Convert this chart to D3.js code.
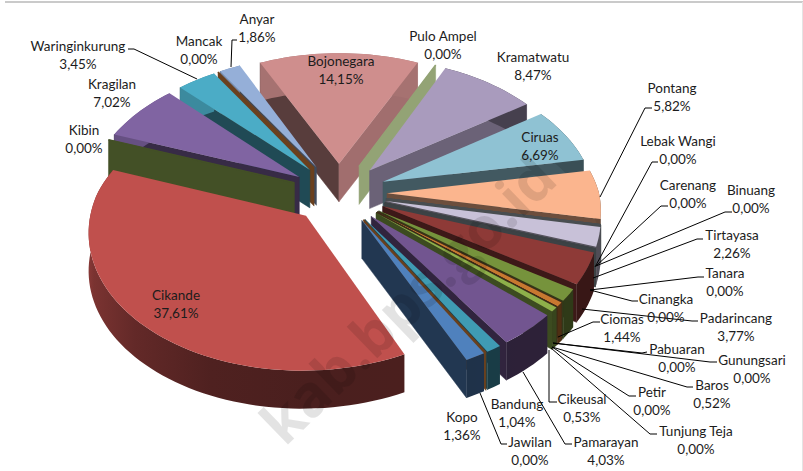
<!DOCTYPE html>
<html><head><meta charset="utf-8">
<script src="https://cdn.jsdelivr.net/npm/d3@7/dist/d3.min.js"></script>
<style>html,body{margin:0;padding:0;background:#fff;overflow:hidden}text{font-family:Lato,"Open Sans",sans-serif;font-size:13.5px;fill:#1c1c1c}</style>
</head><body><svg id="c" width="803" height="471"></svg>
<script>
const categories = ["Anyar","Bojonegara","Pulo Ampel","Kramatwatu","Ciruas","Pontang","Lebak Wangi","Carenang","Binuang","Tirtayasa","Tanara","Cinangka","Padarincang","Ciomas","Pabuaran","Gunungsari","Baros","Petir","Tunjung Teja","Cikeusal","Pamarayan","Bandung","Jawilan","Kopo","Cikande","Kibin","Kragilan","Waringinkurung","Mancak"];
const values = [1.86,14.15,0,8.47,6.69,5.82,0,0,0,2.26,0,0,3.77,1.44,0,0,0.52,0,0,0.53,4.03,1.04,0,1.36,37.61,0,7.02,3.45,0];
const sliceColors = ["#95AFD8","#CF8E8D","#BDD197","#A99BBD","#8FC2D3","#FBB58E","#B6C2C8","#A9B6BC","#A9B6BC","#C8C1D8","#8C9AA0","#8C9AA0","#8E3A37","#76933C","#76933C","#8C6A3A","#C87830","#7B5A2A","#8C6A3A","#8DB04A","#725590","#3F9BB3","#F79646","#4F81BD","#C0504D","#9BBB59","#8064A2","#4BACC6","#F79646"];
const labelCentres = [[257,19],[341,61],[443,36],[533,57],[540,137],[672,88],[678,141],[688,185],[751,190],[732,235],[725,273],[666,299],[736,318],[622,319],[677,349],[752,360],[712,385],[652,392],[696,431],[582,399],[606,442],[517,404],[530,442],[462,417],[176,295],[84,130],[112,84],[78,46],[199,41]];
const leaderPaths = {
 "Anyar":[[237,40],[232,40],[231,67]],
 "Waringinkurung":[[128,49],[134,49],[197,79]],
 "Pontang":[[652,108],[645,108],[600,197]],
 "Lebak Wangi":[[658,162],[652,162],[595,267]],
 "Carenang":[[668,206],[661,206],[596,266]],
 "Binuang":[[732,212],[725,212],[596,266]],
 "Tirtayasa":[[703,239],[697,239],[593,278]],
 "Tanara":[[704,277],[698,277],[590,290]],
 "Cinangka":[[638,301],[632,301],[590,290]],
 "Padarincang":[[698,321],[692,321],[582,309]],
 "Ciomas":[[600,322],[593,322],[558,337]],
 "Pabuaran":[[647,352],[642,353],[553,343]],
 "Gunungsari":[[717,362],[710,362],[553,343]],
 "Baros":[[693,387],[687,387],[552,347]],
 "Petir":[[636,396],[629,396],[552,347]],
 "Cikeusal":[[557,402],[549,402],[549,350]],
 "Tunjung Teja":[[657,434],[650,434],[551,348]],
 "Pamarayan":[[572,444],[565,444],[523,372]],
 "Jawilan":[[507,444],[501,444],[480,393]]
};
const fmt = v => v.toFixed(2).replace(".", ",") + "%";

const svg = d3.select("#c");
const defs = svg.append("defs");
svg.append("line").attr("x1",5).attr("x2",803).attr("y1",2).attr("y2",2).attr("stroke","#b8b8b8").attr("stroke-width",1.5);
svg.append("line").attr("x1",802.5).attr("x2",802.5).attr("y1",2).attr("y2",471).attr("stroke","#e4e4e4");

const cx=339, cy=193, R=212, EXPL=48, SY=0.63, P_FRONT=0.105, P_BACK=0.14, DEPTH=38;
const startDeg=-32.2;
const pie = d3.pie().sort(null).value(d=>d.value)
  .startAngle(startDeg*Math.PI/180).endAngle((startDeg+360)*Math.PI/180);
const arcs = pie(categories.map((name,i)=>({name,value:values[i],color:sliceColors[i],label:labelCentres[i]})));

const radialShade = d3.scaleLinear().domain([0,115,146,170,191,360]).range([.8,.78,.63,.46,.43,.42]).clamp(true);
const rimShade = d3.scaleLinear().domain([0,195,235,280,360]).range([.42,.38,.55,.8,.8]).clamp(true);
const shade=(c,f)=>{const k=d3.rgb(c);return d3.rgb(k.r*f,k.g*f,k.b*f).formatHex();};
const rs = d3.scaleLinear().domain([0,1]).range([0,R]);

function project(a,rf,mid,dz){
  const r=rs(rf);
  const X=EXPL*Math.sin(mid)+r*Math.sin(a);
  const Y=-(EXPL*Math.cos(mid)+r*Math.cos(a));
  const s=1/(1-(Y<0?P_BACK:P_FRONT)*Y/R);
  return [cx+X*s, cy+Y*SY*s+dz];
}
const norm=d=>((d%360)+360)%360;
const deg=a=>a*180/Math.PI;
const line=d3.line();
const poly=pts=>line(pts)+"Z";

const order=arcs.map((d,i)=>({...d,mid:(d.startAngle+d.endAngle)/2,idx:i}))
  .sort((p,q)=>(-Math.cos(p.mid))-(-Math.cos(q.mid)));
const g=svg.append("g");
order.forEach(d=>{
  const c=d.data.color, m=d.mid;
  const gs=g.append("g").attr("data-name",d.data.name);
  const wall=(a,n)=>{
    if(Math.cos(n*Math.PI/180)>=0) return;
    const col=shade(c,radialShade(norm(n)));
    gs.append("path").attr("d",poly([project(a,0,m,0),project(a,1,m,0),project(a,1,m,DEPTH),project(a,0,m,DEPTH)]))
      .attr("fill",col).attr("stroke",col).attr("stroke-width",.5);
    if(d.value===0){
      gs.append("path").attr("d",line([project(a,0,m,0),project(a,1,m,0)])).attr("stroke",col).attr("stroke-width",1.5).attr("fill","none");
    }
  };
  wall(d.startAngle,deg(d.startAngle)-90);
  wall(d.endAngle,deg(d.endAngle)+90);
  if(d.value>0){
    const n=Math.max(2,Math.ceil(deg(d.endAngle-d.startAngle)/2));
    const as=d3.range(n+1).map(i=>d.startAngle+(d.endAngle-d.startAngle)*i/n);
    const rim=as.map(a=>project(a,1,m,0));
    const rimLow=as.map(a=>project(a,1,m,DEPTH)).reverse();
    const xs=rim.map(p=>p[0]);
    const x0=d3.min(xs), x1=Math.max(d3.max(xs),x0+1);
    const id="rim"+d.idx;
    const leftmost=xs.indexOf(x0);
    const step=Math.max(1,Math.round(as.length/6));
    const picks=as.map((a,i)=>({a,i})).filter(p=>p.i<=leftmost&&(p.i%step===0||p.i===leftmost));
    const grad=defs.append("linearGradient").attr("id",id).attr("gradientUnits","userSpaceOnUse")
      .attr("x1",x0).attr("x2",x1).attr("y1",0).attr("y2",0);
    picks.map(p=>({o:(xs[p.i]-x0)/(x1-x0),col:shade(c,rimShade(norm(deg(p.a))))}))
      .sort((p,q)=>p.o-q.o)
      .forEach(s=>grad.append("stop").attr("offset",s.o).attr("stop-color",s.col));
    gs.append("path").attr("d",poly([...rim,...rimLow])).attr("fill",`url(#${id})`);
    gs.append("path").attr("d",poly([project(d.startAngle,0,m,0),...rim])).attr("fill",c);
  }
});

const labels=svg.append("g");
arcs.forEach(d=>{
  const lp=leaderPaths[d.data.name];
  if(lp) labels.append("path").attr("d",line(lp)).attr("fill","none").attr("stroke","#000").attr("stroke-width",1);
});
arcs.forEach(d=>{
  const [x,y]=d.data.label;
  const t=labels.append("text").attr("text-anchor","middle");
  t.append("tspan").attr("x",x).attr("y",y+4.5).text(d.data.name);
  t.append("tspan").attr("x",x).attr("y",y+22.5).text(fmt(d.value));
});
svg.append("text").text("kab.bps.go.id").attr("text-anchor","end")
  .attr("transform","translate(560,182) rotate(-44)")
  .style("font-family","'Open Sans',sans-serif").style("font-weight","700").style("font-size","58px").style("fill","rgba(0,0,0,.11)");
</script></body></html>
